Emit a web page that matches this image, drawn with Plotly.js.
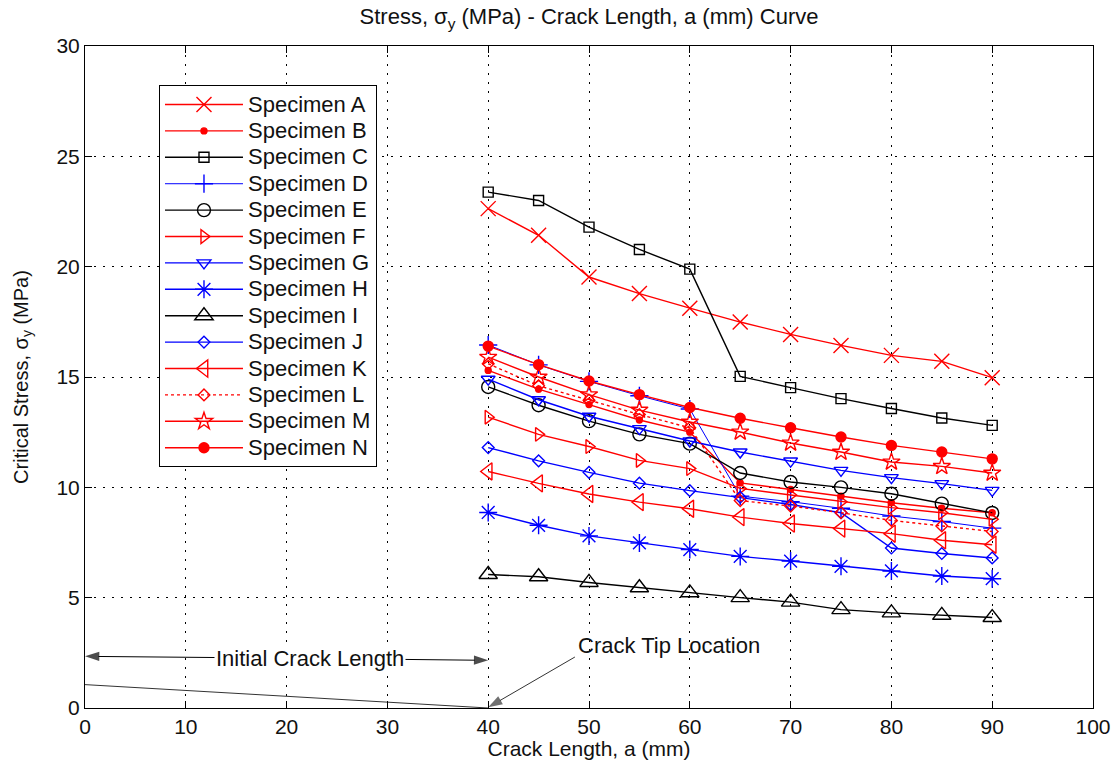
<!DOCTYPE html>
<html><head><meta charset="utf-8">
<script src="https://cdn.plot.ly/plotly-3.0.1.min.js"></script>
<style>html,body{margin:0;padding:0;background:#fff}#chart{width:1120px;height:760px}</style>
</head><body><div id="chart"></div>
<script>
// ---- data ----
const crackLength = [40, 45, 50, 55, 60, 65, 70, 75, 80, 85, 90];
const specimenNames = ["Specimen A","Specimen B","Specimen C","Specimen D","Specimen E","Specimen F","Specimen G",
                       "Specimen H","Specimen I","Specimen J","Specimen K","Specimen L","Specimen M","Specimen N"];
const specimenA = [22.63, 21.42, 19.53, 18.78, 18.12, 17.49, 16.93, 16.43, 15.98, 15.71, 14.97];
const specimenB = [15.30, 14.45, 13.75, 13.05, 12.50, 10.20, 9.90, 9.60, 9.30, 9.05, 8.85];
const specimenC = [23.38, 23.00, 21.79, 20.78, 19.89, 15.03, 14.52, 14.02, 13.57, 13.14, 12.81];
const specimenD = [16.45, 15.55, 14.80, 14.15, 13.55, 9.60, 9.35, 9.05, 8.70, 8.45, 8.15];
const specimenE = [14.55, 13.72, 13.00, 12.40, 11.98, 10.65, 10.24, 10.00, 9.71, 9.26, 8.84];
const specimenF = [13.18, 12.40, 11.85, 11.22, 10.85, 9.95, 9.65, 9.35, 9.08, 8.85, 8.55];
const specimenG = [14.90, 13.97, 13.22, 12.66, 12.10, 11.60, 11.19, 10.77, 10.44, 10.17, 9.86];
const specimenH = [8.86, 8.28, 7.80, 7.48, 7.18, 6.87, 6.66, 6.42, 6.21, 5.98, 5.86];
const specimenI = [6.05, 5.95, 5.69, 5.45, 5.22, 5.00, 4.80, 4.46, 4.31, 4.20, 4.10];
const specimenJ = [11.80, 11.20, 10.68, 10.19, 9.85, 9.55, 9.22, 8.85, 7.25, 7.00, 6.80];
const specimenK = [10.72, 10.18, 9.70, 9.33, 9.03, 8.65, 8.36, 8.13, 7.90, 7.60, 7.40];
const specimenL = [15.60, 14.60, 13.95, 13.30, 12.70, 9.40, 9.15, 8.85, 8.50, 8.25, 8.00];
const specimenM = [15.90, 15.00, 14.20, 13.50, 12.96, 12.51, 12.01, 11.60, 11.15, 10.95, 10.65];
const specimenN = [16.40, 15.56, 14.82, 14.20, 13.62, 13.13, 12.70, 12.28, 11.90, 11.60, 11.29];
const specimenValues = [specimenA, specimenB, specimenC, specimenD, specimenE, specimenF, specimenG,
                        specimenH, specimenI, specimenJ, specimenK, specimenL, specimenM, specimenN];

// crack sketch (crack length, stress-axis units)
const crackSketchX = [0, 40];
const crackSketchY = [1.06, 0];
// "Initial Crack Length" dimension arrows (from label centre to each end)
const initialLeftX = [22, 0];
const initialLeftY = [2.25, 2.34];
const initialRightX = [22, 40];
const initialRightY = [2.25, 2.16];
// "Crack Tip Location" pointer
const tipArrowX = [48.6, 40];
const tipArrowY = [2.31, 0.03];

const labelInitial = {text: 'Initial Crack Length', x: 22.3, y: 2.26};
const labelTip = {text: 'Crack Tip Location', x: 57.9, y: 2.84};

const xTicks = [0, 10, 20, 30, 40, 50, 60, 70, 80, 90, 100];
const yTicks = [0, 5, 10, 15, 20, 25, 30];

// ---- styles ----
const RED = '#ff0000', BLUE = '#0000ff', BLACK = '#000000';
const styles = [
  {c: RED,   sym: 'x-thin-open',        size: 15, dash: 'solid'},
  {c: RED,   sym: 'circle',             size: 6,  dash: 'solid'},
  {c: BLACK, sym: 'square-open',        size: 10, dash: 'solid'},
  {c: BLUE,  sym: 'cross-thin-open',    size: 13, dash: 'solid', lw: 1.0},
  {c: BLACK, sym: 'circle-open',        size: 13, dash: 'solid'},
  {c: RED,   sym: 'triangle-right-open',size: 12, dash: 'solid'},
  {c: BLUE,  sym: 'triangle-down-open', size: 12, dash: 'solid'},
  {c: BLUE,  sym: 'asterisk-open',      size: 15, dash: 'solid'},
  {c: BLACK, sym: 'triangle-up-open',   size: 16, dash: 'solid'},
  {c: BLUE,  sym: 'diamond-open',       size: 9,  dash: 'solid'},
  {c: RED,   sym: 'triangle-left-open', size: 15, dash: 'solid'},
  {c: RED,   sym: 'diamond-open',       size: 9,  dash: 'dot'},
  {c: RED,   sym: 'star-open',          size: 13, dash: 'solid'},
  {c: RED,   sym: 'circle',             size: 10, dash: 'solid'}
];

const FONT = 'Liberation Sans, Arial, Helvetica, sans-serif';
const TXT = '#111111';

const traces = [];
specimenNames.forEach((name, i) => {
  const s = styles[i];
  traces.push({
    x: crackLength, y: specimenValues[i],
    name: '<span style="font-size:22px">' + name + '</span>',
    type: 'scatter', mode: 'lines+markers',
    line: {color: s.c, width: s.lw || 1.4, dash: s.dash},
    marker: {symbol: s.sym, size: s.size, color: s.c, line: {color: s.c, width: 1.4}}
  });
});

function arrowTrace(xs, ys, color) {
  return {
    x: xs, y: ys, mode: 'lines+markers', showlegend: false, hoverinfo: 'skip',
    line: {color: color, width: 1},
    marker: {symbol: 'arrow', size: [0, 15], angleref: 'previous', color: color, line: {width: 0}}
  };
}
traces.push({
  x: crackSketchX, y: crackSketchY, mode: 'lines', showlegend: false, hoverinfo: 'skip',
  line: {color: '#333333', width: 1}
});
traces.push(arrowTrace(initialLeftX, initialLeftY, '#000000'));
traces.push(arrowTrace(initialRightX, initialRightY, '#000000'));
traces.push(arrowTrace(tipArrowX, tipArrowY, '#333333'));

const grid = {
  showgrid: true, gridcolor: '#000000', gridwidth: 1, griddash: '2px,7px',
  zeroline: false, showline: true, mirror: 'ticks', linecolor: '#000000', linewidth: 1,
  ticks: 'inside', ticklen: 7, tickcolor: '#000000', tickwidth: 1,
  tickfont: {family: FONT, size: 21, color: TXT}
};

const layout = {
  width: 1120, height: 760,
  paper_bgcolor: '#ffffff', plot_bgcolor: '#ffffff',
  margin: {l: 85, r: 27, t: 46, b: 52},
  font: {family: FONT, color: TXT},
  title: {
    text: 'Stress, σ<sub>y</sub> (MPa) - Crack Length, a (mm) Curve',
    font: {family: FONT, size: 22, color: TXT},
    x: 0.5, xref: 'paper', y: 0.978, yref: 'container', yanchor: 'middle'
  },
  xaxis: Object.assign({}, grid, {
    range: [0, 100], tickvals: xTicks, ticktext: xTicks.map(String),
    title: {text: 'Crack Length, a (mm)', font: {family: FONT, size: 21, color: TXT}, standoff: 3}
  }),
  yaxis: Object.assign({}, grid, {
    range: [0, 30], tickvals: yTicks, ticktext: yTicks.map(String),
    title: {text: 'Critical Stress, σ<sub>y</sub> (MPa)', font: {family: FONT, size: 20, color: TXT}, standoff: 22}
  }),
  showlegend: true,
  legend: {
    x: 0.0734, y: 0.9406, xanchor: 'left', yanchor: 'top',
    bgcolor: '#ffffff', bordercolor: '#000000', borderwidth: 1,
    font: {family: FONT, size: 18, color: TXT},
    itemwidth: 78, tracegroupgap: 0
  },
  annotations: [
    {x: labelInitial.x, y: labelInitial.y, xref: 'x', yref: 'y', text: labelInitial.text, showarrow: false,
     bgcolor: '#ffffff', borderpad: 1, font: {family: FONT, size: 22, color: TXT}},
    {x: labelTip.x, y: labelTip.y, xref: 'x', yref: 'y', text: labelTip.text, showarrow: false,
     font: {family: FONT, size: 22, color: TXT}}
  ]
};

Plotly.newPlot('chart', traces, layout, {displayModeBar: false, staticPlot: true});
</script>
</body></html>
